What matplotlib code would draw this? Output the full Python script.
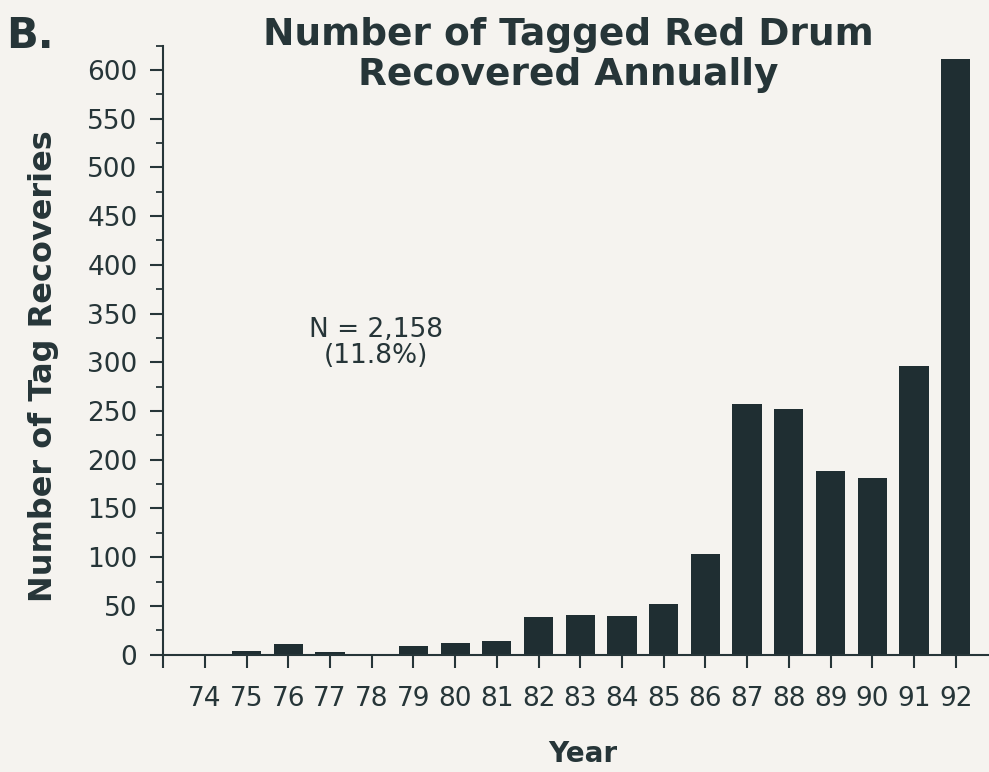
import numpy as np
import matplotlib
matplotlib.use('Agg')
import matplotlib.pyplot as plt
from matplotlib.ticker import MultipleLocator

# %% data
years = np.arange(74, 93)
recoveries = [0, 4, 11, 3, 1, 9, 12, 14, 39, 41, 40, 52, 103, 257, 252, 188, 181, 296, 611]
year_labels = [str(y) for y in years]

ink = '#263538'
paper = '#f5f3ef'
plt.rcParams['font.family'] = ['DejaVu Sans']

# %% plot
fig = plt.figure(figsize=(9.89, 7.72), dpi=100, facecolor=paper)
ax = fig.add_axes([0.165, 0.152, 0.835, 0.789], facecolor=paper)

ax.bar(years, recoveries, width=0.7, color='#1f2e32', edgecolor='none', zorder=2)

ax.set_xlim(73, 92.8)
ax.set_ylim(0, 625)
ax.set_xticks(np.arange(73, 93))
ax.set_xticklabels([''] + year_labels)
ax.set_yticks(np.arange(0, 601, 50))
ax.yaxis.set_minor_locator(MultipleLocator(25))

for side in ['top', 'right']:
    ax.spines[side].set_visible(False)
for side in ['left', 'bottom']:
    ax.spines[side].set_color(ink)
    ax.spines[side].set_linewidth(1.5)

ax.tick_params(axis='x', direction='out', length=9.5, width=1.5, colors=ink,
               labelsize=19, pad=13)
ax.tick_params(axis='y', which='major', direction='out', length=9.5, width=1.5,
               colors=ink, labelsize=19, pad=9)
ax.tick_params(axis='y', which='minor', direction='out', length=4.7, width=1.3, colors=ink)

ax.set_xlabel('Year', fontsize=20, fontweight='bold', color=ink)
ax.xaxis.set_label_coords(0.508, -0.14)
ax.set_ylabel('Number of Tag Recoveries', fontsize=23, fontweight='bold', color=ink,
              va='center')
ax.yaxis.set_label_coords(-0.145, 0.473)

fig.text(0.575, 0.978, 'Number of Tagged Red Drum\nRecovered Annually', ha='center',
         va='top', fontsize=27, fontweight='bold', color=ink, linespacing=1.15)
fig.text(0.006, 0.981, 'B.', ha='left', va='top', fontsize=30, fontweight='bold', color=ink)
ax.text(78.1, 320, 'N = 2,158\n(11.8%)', ha='center', va='center', fontsize=19,
        color=ink, linespacing=1.0)

fig.savefig('out.png', dpi=100, facecolor=paper)
